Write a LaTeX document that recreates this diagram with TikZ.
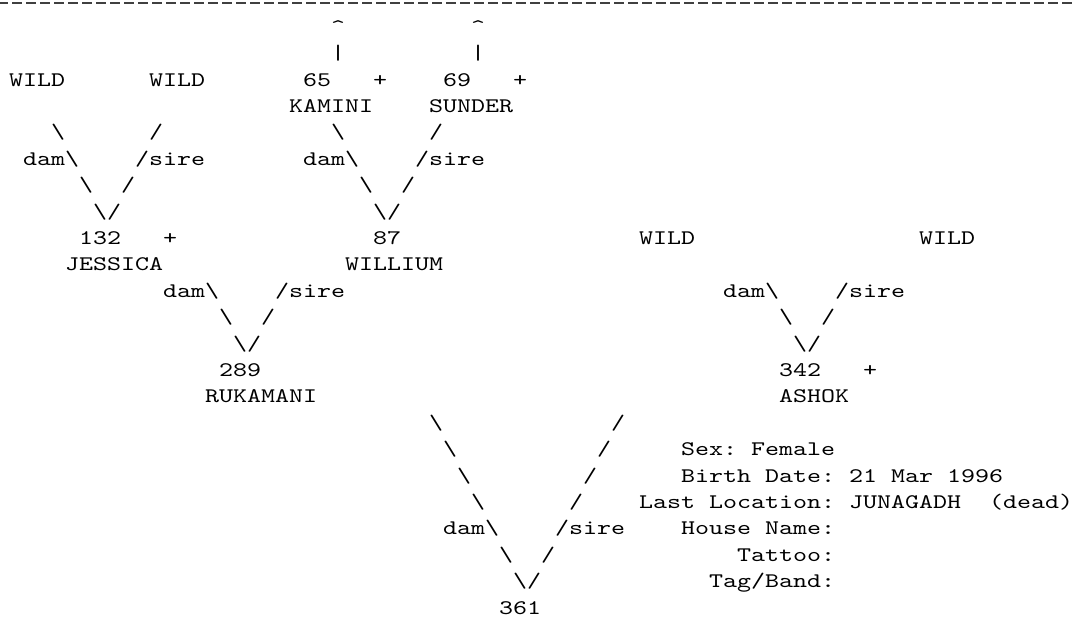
\documentclass[tikz,border=0pt]{standalone}
\usepackage{graphicx}

\newcommand\asc[1]{\scalebox{2}[1.555]{\ttfamily\fontsize{10}{12}\selectfont\frenchspacing #1}}
\newcommand\bsl{\textbackslash}

\begin{document}
\begin{tikzpicture}[x=10.5pt,y=-19.8pt,
  every node/.style={anchor=base west,inner sep=0pt,outer sep=0pt}]
\clip (-0.643,-0.258) rectangle (76,23.152);
\coordinate (ruleL) at (-0.764,-0.163); \coordinate (ruleR) at (77,-0.163);
\draw[black!75,line width=1.5pt,dash pattern=on 7.5pt off 3pt] (ruleL) -- (ruleR);
\begin{scope}
  \node (up65) at (23,1) {\asc{\textasciicircum}}; \node (up69) at (33,1) {\asc{\textasciicircum}};
  \node (bar65) at (23,2) {\asc{|}}; \node (bar69) at (33,2) {\asc{|}};
  \node (wildA) at (0,3) {\asc{WILD}}; \node (wildB) at (10,3) {\asc{WILD}};
  \node (n65) at (21,3) {\asc{65}}; \node (plus65) at (26,3) {\asc{+}};
  \node (n69) at (31,3) {\asc{69}}; \node (plus69) at (36,3) {\asc{+}};
  \node (kamini) at (20,4) {\asc{KAMINI}}; \node (sunder) at (30,4) {\asc{SUNDER}};
  \node (lA1) at (3,5) {\asc{\bsl}}; \node (rA1) at (10,5) {\asc{/}};
  \node (lB1) at (23,5) {\asc{\bsl}}; \node (rB1) at (30,5) {\asc{/}};
  \node (damA) at (1,6) {\asc{dam\bsl}}; \node (sireA) at (9,6) {\asc{/sire}};
  \node (damB) at (21,6) {\asc{dam\bsl}}; \node (sireB) at (29,6) {\asc{/sire}};
  \node (lA2) at (5,7) {\asc{\bsl}}; \node (rA2) at (8,7) {\asc{/}};
  \node (lB2) at (25,7) {\asc{\bsl}}; \node (rB2) at (28,7) {\asc{/}};
  \node (vA) at (6,8) {\asc{\bsl/}}; \node (vB) at (26,8) {\asc{\bsl/}};
\end{scope}
\begin{scope}
  \node (n132) at (5,9) {\asc{132}}; \node (plus132) at (11,9) {\asc{+}};
  \node (n87) at (26,9) {\asc{87}};
  \node (wildC) at (45,9) {\asc{WILD}}; \node (wildD) at (65,9) {\asc{WILD}};
  \node (jessica) at (4,10) {\asc{JESSICA}}; \node (willium) at (24,10) {\asc{WILLIUM}};
  \node (damC) at (11,11) {\asc{dam\bsl}}; \node (sireC) at (19,11) {\asc{/sire}};
  \node (damD) at (51,11) {\asc{dam\bsl}}; \node (sireD) at (59,11) {\asc{/sire}};
  \node (lC) at (15,12) {\asc{\bsl}}; \node (rC) at (18,12) {\asc{/}};
  \node (lD) at (55,12) {\asc{\bsl}}; \node (rD) at (58,12) {\asc{/}};
  \node (vC) at (16,13) {\asc{\bsl/}}; \node (vD) at (56,13) {\asc{\bsl/}};
  \node (n289) at (15,14) {\asc{289}};
  \node (n342) at (55,14) {\asc{342}}; \node (plus342) at (61,14) {\asc{+}};
  \node (rukamani) at (14,15) {\asc{RUKAMANI}}; \node (ashok) at (55,15) {\asc{ASHOK}};
\end{scope}
\begin{scope}
  \node (lE1) at (30,16) {\asc{\bsl}}; \node (rE1) at (43,16) {\asc{/}};
  \node (lE2) at (31,17) {\asc{\bsl}}; \node (rE2) at (42,17) {\asc{/}};
  \node (lE3) at (32,18) {\asc{\bsl}}; \node (rE3) at (41,18) {\asc{/}};
  \node (lE4) at (33,19) {\asc{\bsl}}; \node (rE4) at (40,19) {\asc{/}};
  \node (damE) at (31,20) {\asc{dam\bsl}}; \node (sireE) at (39,20) {\asc{/sire}};
  \node (lE5) at (35,21) {\asc{\bsl}}; \node (rE5) at (38,21) {\asc{/}};
  \node (vE) at (36,22) {\asc{\bsl/}};
  \node (n361) at (35,23) {\asc{361}};
  \node (sex) at (48,17) {\asc{Sex: Female}};
  \node (birth) at (48,18) {\asc{Birth Date: 21 Mar 1996}};
  \node (lastloc) at (45,19) {\asc{Last Location: JUNAGADH}}; \node (dead) at (70,19) {\asc{(dead)}};
  \node (house) at (48,20) {\asc{House Name:}};
  \node (tattoo) at (52,21) {\asc{Tattoo:}};
  \node (tagband) at (50,22) {\asc{Tag/Band:}};
\end{scope}
\end{tikzpicture}
\end{document}
